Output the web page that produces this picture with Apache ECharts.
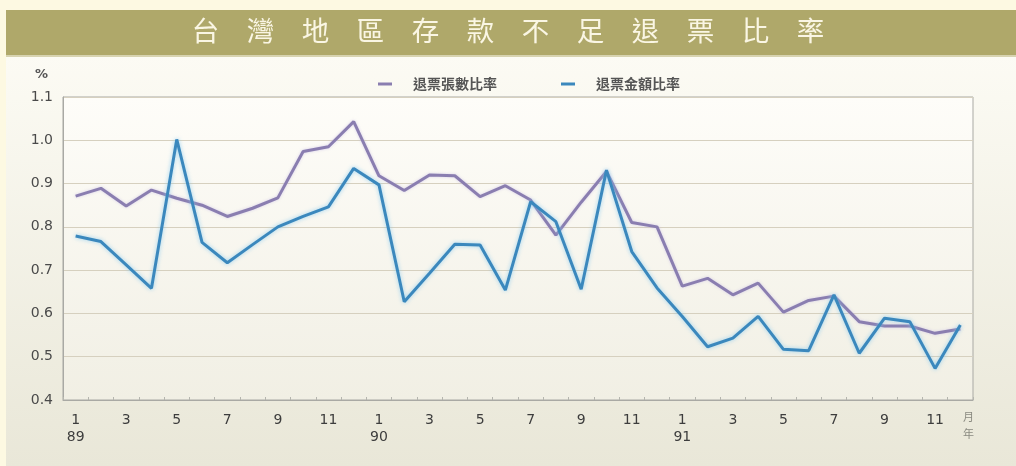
<!DOCTYPE html>
<html>
<head>
<meta charset="utf-8">
<script src="https://cdn.jsdelivr.net/npm/echarts@6/dist/echarts.min.js"></script>
<style>
  html, body { margin: 0; padding: 0; background: #fdf9e2; }
  #chart { width: 1016px; height: 466px; }
</style>
</head>
<body>
<div id="chart"></div>
<script>
// Monthly series, Jan 1989 - Dec 1991 (ROC years 89-91)
const years = ['89', '90', '91'];
const months = [1, 2, 3, 4, 5, 6, 7, 8, 9, 10, 11, 12];
const seriesNames = ['退票張數比率', '退票金額比率'];

// 退票張數比率 (%)
const countRatio = [
  0.871, 0.889, 0.848, 0.885, 0.866, 0.850, 0.824, 0.843, 0.867, 0.974, 0.985, 1.043,
  0.918, 0.884, 0.920, 0.918, 0.870, 0.895, 0.862, 0.781, 0.857, 0.928, 0.810, 0.800,
  0.663, 0.681, 0.643, 0.670, 0.603, 0.630, 0.640, 0.581, 0.571, 0.571, 0.554, 0.564
];

// 退票金額比率 (%)
const amountRatio = [
  0.779, 0.766, 0.712, 0.658, 1.002, 0.764, 0.717, 0.759, 0.800, 0.824, 0.846, 0.935,
  0.897, 0.627, 0.693, 0.760, 0.758, 0.654, 0.858, 0.812, 0.656, 0.931, 0.743, 0.659,
  0.593, 0.523, 0.543, 0.593, 0.517, 0.514, 0.643, 0.508, 0.589, 0.581, 0.473, 0.573
];

const yTicks = { min: 0.4, max: 1.1, step: 0.1 };

// category keys "yy/m"
const categories = [];
years.forEach(y => months.forEach(m => categories.push(y + '/' + m)));

const chart = echarts.init(document.getElementById('chart'), null, { renderer: 'canvas' });

const option = {
  backgroundColor: '#fdf9e2',
  animation: false,
  graphic: [
    // panel background
    {
      type: 'rect', z: -10, silent: true,
      shape: { x: 6, y: 55, width: 1010, height: 411 },
      style: {
        fill: new echarts.graphic.LinearGradient(0, 0, 0, 1, [
          { offset: 0, color: '#fcfbf4' },
          { offset: 1, color: '#e9e7d8' }
        ])
      }
    },
    // plot area background
    {
      type: 'rect', z: -9, silent: true,
      shape: { x: 63, y: 97, width: 910, height: 303 },
      style: {
        fill: new echarts.graphic.LinearGradient(0, 0, 0, 1, [
          { offset: 0, color: '#fefdf9' },
          { offset: 1, color: '#f1efe4' }
        ])
      }
    },
    // title band
    {
      type: 'rect', z: -8, silent: true,
      shape: { x: 6, y: 10, width: 1010, height: 45 },
      style: { fill: '#afa86a' }
    },
    {
      type: 'rect', z: -8, silent: true,
      shape: { x: 6, y: 55, width: 1010, height: 2 },
      style: { fill: '#d7d3b0' }
    },
    {
      type: 'text', z: 10, silent: true,
      left: 'center', top: 17,
      style: {
        text: '台　灣　地　區　存　款　不　足　退　票　比　率',
        font: '27.5px "Noto Sans CJK TC", "Noto Sans CJK SC", sans-serif',
        fill: '#faf6e4',
        shadowColor: 'rgba(255,255,240,0.9)',
        shadowBlur: 4
      }
    },
    // unit label
    {
      type: 'text', silent: true,
      left: 35, top: 68,
      style: { text: '%', font: 'bold 13px "DejaVu Sans", sans-serif', fill: '#555' }
    },
    // month / year key for the x axis
    {
      type: 'text', silent: true,
      left: 963, top: 408,
      style: {
        text: '月\n年',
        font: '11px "Noto Sans CJK TC", sans-serif',
        fill: '#8a8a80',
        lineHeight: 17
      }
    }
  ],
  legend: {
    left: 373, top: 72,
    itemGap: 64,
    itemWidth: 14, itemHeight: 3,
    icon: 'rect',
    textStyle: {
      fontFamily: '"Noto Sans CJK TC", sans-serif',
      fontSize: 14, fontWeight: 'bold',
      color: '#555',
      padding: [0, 0, 0, 16]
    },
    data: seriesNames
  },
  grid: {
    left: 63, right: 43, top: 97, bottom: 66,
    show: true, borderColor: '#a9a9a4', borderWidth: 1,
    containLabel: false
  },
  xAxis: {
    type: 'category',
    data: categories,
    boundaryGap: true,
    axisLine: { lineStyle: { color: '#a9a9a4' } },
    axisTick: { show: true, inside: true, length: 3, interval: 0, lineStyle: { color: '#b5b5ae' } },
    axisLabel: {
      interval: 1,
      margin: 12,
      color: '#3d3d3d',
      fontSize: 14,
      lineHeight: 17,
      fontFamily: '"DejaVu Sans", sans-serif',
      formatter: function (v) {
        const parts = v.split('/');
        return parts[1] === '1' ? parts[1] + '\n' + parts[0] : parts[1];
      }
    },
    splitLine: { show: false }
  },
  yAxis: {
    type: 'value',
    min: yTicks.min, max: yTicks.max, interval: yTicks.step,
    axisLine: { show: true, lineStyle: { color: '#a9a9a4' } },
    axisTick: { show: false },
    axisLabel: {
      margin: 10,
      color: '#4a4a4a',
      fontSize: 14,
      fontFamily: '"DejaVu Sans", sans-serif',
      formatter: v => v.toFixed(1)
    },
    splitLine: { lineStyle: { color: '#d6d0bf', width: 1.2 } }
  },
  series: [
    {
      name: seriesNames[0],
      type: 'line',
      data: countRatio,
      symbol: 'none',
      color: '#8a7eb0',
      lineStyle: { width: 3, color: '#8a7eb0', shadowColor: 'rgba(200,190,230,0.7)', shadowBlur: 3 },
      z: 2
    },
    {
      name: seriesNames[1],
      type: 'line',
      data: amountRatio,
      symbol: 'none',
      color: '#3b88bd',
      lineStyle: { width: 3, color: '#3b88bd', shadowColor: 'rgba(130,200,240,0.8)', shadowBlur: 4 },
      z: 3
    }
  ]
};

chart.setOption(option);
</script>
</body>
</html>
